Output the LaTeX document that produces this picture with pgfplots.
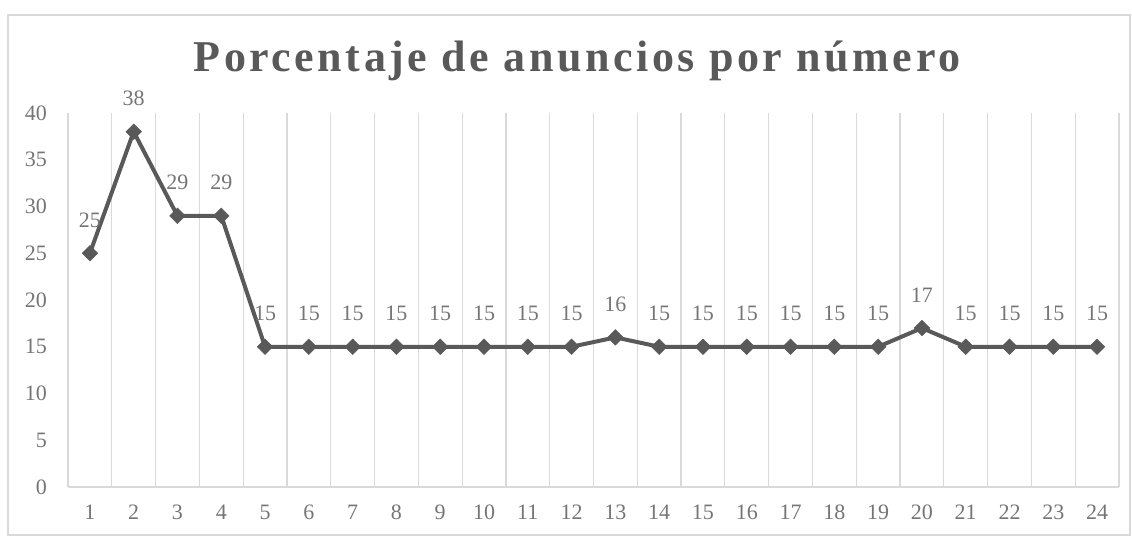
\documentclass[border=0pt]{standalone}
\usepackage{pgfplots}
\pgfplotsset{compat=1.18}
\usepackage{fontspec}
\setmainfont{Liberation Serif}
\newfontfamily\titlefont[LetterSpace=8]{Liberation Serif}
\definecolor{txtgray}{HTML}{595959}
\definecolor{lblgray}{HTML}{757575}
\definecolor{gridgray}{HTML}{D9D9D9}
\definecolor{linegray}{HTML}{595959}
\begin{document}
\begin{tikzpicture}[x=1pt,y=1pt]
\path[use as bounding box] (-68,-49) rectangle (1064,487);
\draw[gridgray, line width=1.5pt] (-60,-48) rectangle (1062,472);
\node[anchor=base, font=\titlefont\bfseries\fontsize{44}{52}\selectfont, text=txtgray] at (509,415) {Porcentaje de anuncios por número};
\begin{axis}[at={(0,0)}, anchor=south west,
  scale only axis, width=1051pt, height=374pt,
  xmin=0.5, xmax=24.5, ymin=0, ymax=40,
  xtick={1,...,24}, ytick={0,5,...,40},
  minor xtick={0.5,1.5,...,24.5}, xminorgrids,
  minor grid style={gridgray, line width=1.2pt},
  major tick length=0, minor tick length=0,
  axis x line*=bottom, axis y line*=left,
  x axis line style={-, draw=gridgray, line width=1.5pt},
  y axis line style={draw=none},
  /pgf/number format/assume math mode=true,
  ticklabel style={font=\fontsize{22}{26}\selectfont, text=lblgray},
  yticklabel style={anchor=east, inner sep=0pt, xshift=-21pt},
  xticklabel style={anchor=base, inner sep=0pt, yshift=-32pt},
  clip=false,
]
\addplot[color=linegray, line width=4pt, mark=square*, mark size=5.5pt,
  mark options={solid, rotate=45, line width=0.5pt, fill=linegray},
  nodes near coords,
  every node near coord/.append style={font=\fontsize{22}{26}\selectfont, text=lblgray, anchor=base, inner sep=0pt, yshift=26pt}]
coordinates {(1,25)(2,38)(3,29)(4,29)(5,15)(6,15)(7,15)(8,15)(9,15)(10,15)(11,15)(12,15)(13,16)(14,15)(15,15)(16,15)(17,15)(18,15)(19,15)(20,17)(21,15)(22,15)(23,15)(24,15)};
\end{axis}
\end{tikzpicture}
\end{document}
